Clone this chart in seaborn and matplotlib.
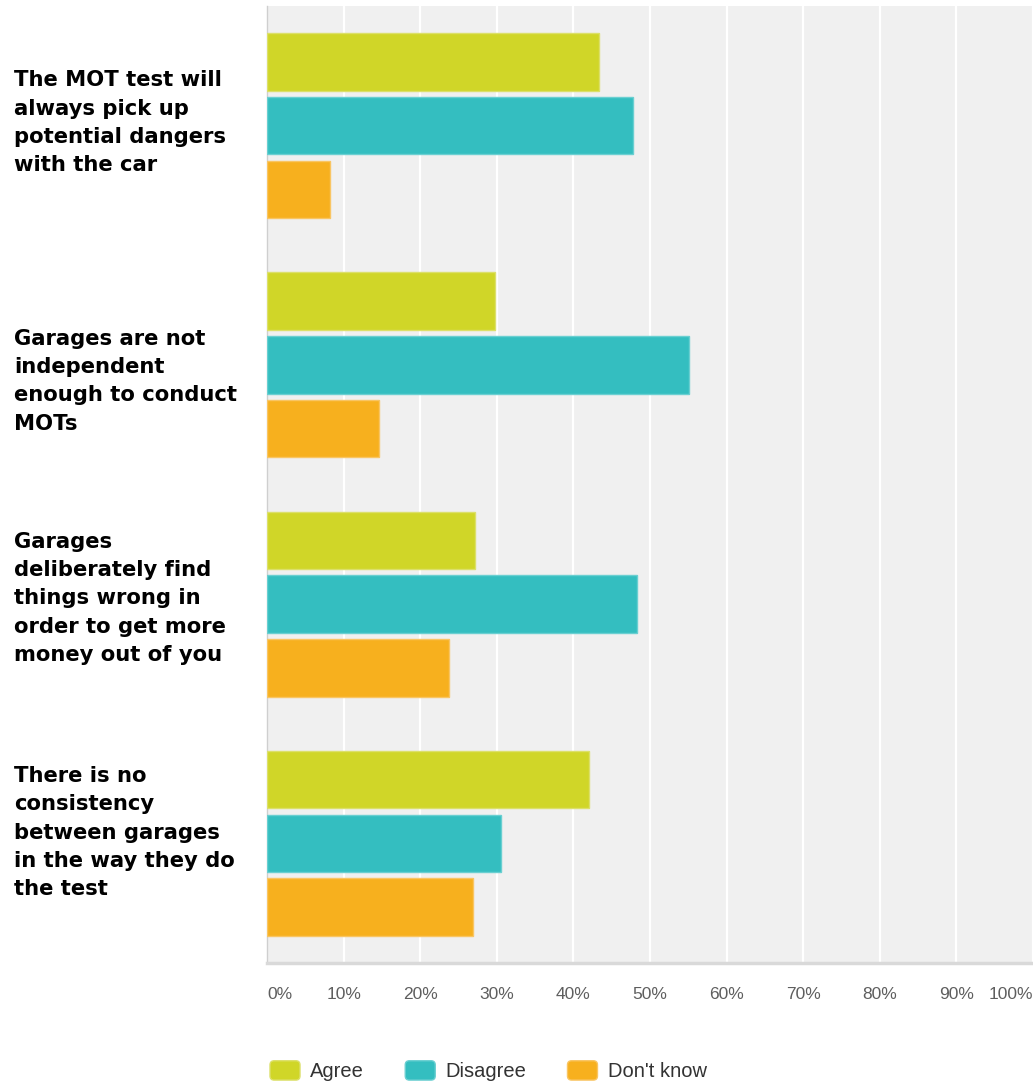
import matplotlib
matplotlib.use("Agg")
import matplotlib.pyplot as plt
import matplotlib.patches as mpatches
import matplotlib.transforms as mtransforms
from matplotlib.legend_handler import HandlerPatch
import pandas as pd
import seaborn as sns

STATEMENTS = ["The MOT test will\nalways pick up\npotential dangers\nwith the car",
              "Garages are not\nindependent\nenough to conduct\nMOTs",
              "Garages\ndeliberately find\nthings wrong in\norder to get more\nmoney out of you",
              "There is no\nconsistency\nbetween garages\nin the way they do\nthe test"]
ANSWERS = ["Agree", "Disagree", "Don't know"]

AGREE = [43.4, 29.7, 27.2, 42.0]
DISAGREE = [47.8, 55.1, 48.3, 30.5]
DONT_KNOW = [8.2, 14.6, 23.8, 26.9]

X_TICKS = [0, 10, 20, 30, 40, 50, 60, 70, 80, 90, 100]
X_LABELS = ["0%", "10%", "20%", "30%", "40%", "50%", "60%", "70%", "80%", "90%", "100%"]

COLORS = {"Agree": "#D0D628", "Disagree": "#34BEC0", "Don't know": "#F7B01E"}
EDGES = {"Agree": "#DCE06A", "Disagree": "#6ACFD1", "Don't know": "#F9C563"}

# the statement texts in the original sit a little off their group centres (pixels, + is down)
LABEL_SHIFT = [-9, 10, -12, -17]

sns.set_theme(style="white", rc={"axes.facecolor": "#F0F0F0"})

rows = []
for i, statement in enumerate(STATEMENTS):
    rows.append([statement, "Agree", AGREE[i]])
    rows.append([statement, "Disagree", DISAGREE[i]])
    rows.append([statement, "Don't know", DONT_KNOW[i]])
df = pd.DataFrame(rows, columns=["statement", "answer", "percent"])

W, H = 1033, 1082
fig = plt.figure(figsize=(W / 100, H / 100), dpi=100)
ax = fig.add_axes([267 / W, 1 - 963 / H, (W - 267) / W, (963 - 6) / H])

sns.barplot(data=df, x="percent", y="statement", hue="answer", order=STATEMENTS,
            hue_order=ANSWERS, palette=COLORS, saturation=1, orient="h",
            width=0.8, gap=0.1, legend=False, ax=ax, zorder=3)

# light outline round each bar, like the original
for container, answer in zip(ax.containers, ANSWERS):
    for bar in container:
        bar.set_edgecolor(EDGES[answer])
        bar.set_linewidth(1)

ax.set_xlim(0, 100)
ax.set_ylim(3.5, -0.5)
ax.set_xticks(X_TICKS)
ax.set_xticklabels(X_LABELS, fontfamily="Liberation Sans", fontsize=12.5, color="#5E5E5E")
for lbl, tick in zip(ax.get_xticklabels(), X_TICKS):
    if tick == 0:
        lbl.set_ha("left")
    elif tick == 100:
        lbl.set_ha("right")
ax.xaxis.grid(True, color="white", linewidth=1.6, zorder=0)
ax.set_axisbelow(True)
ax.tick_params(axis="x", length=0, pad=17)
ax.tick_params(axis="y", length=0, pad=182)
for lbl, shift in zip(ax.get_yticklabels(), LABEL_SHIFT):
    lbl.set_ha("left")
    lbl.set_fontfamily("DejaVu Sans")
    lbl.set_fontweight("bold")
    lbl.set_fontsize(15.2)
    lbl.set_linespacing(1.52)
    lbl.set_color("black")
    offset = mtransforms.ScaledTranslation(0, -shift / 100, fig.dpi_scale_trans)
    lbl.set_transform(lbl.get_transform() + offset)
ax.set_xlabel("")
ax.set_ylabel("")

for side in ["top", "right"]:
    ax.spines[side].set_visible(False)
ax.spines["left"].set_color("#CFCFCF")
ax.spines["left"].set_linewidth(1)
ax.spines["bottom"].set_color("#D9D9D9")
ax.spines["bottom"].set_linewidth(2.5)


def rounded_box(legend, orig_handle, xdescent, ydescent, width, height, fontsize):
    return mpatches.FancyBboxPatch((-xdescent, -ydescent), width, height,
                                   boxstyle="round,pad=0,rounding_size=3")


handles = [mpatches.Patch(facecolor=COLORS[a], edgecolor=EDGES[a], label=a) for a in ANSWERS]
leg = fig.legend(handles=handles, loc="center left", bbox_to_anchor=(270 / W, 1 - 1071 / H),
                 ncol=3, frameon=False, handlelength=1.49, handleheight=1.1,
                 handletextpad=0.5, columnspacing=2.05, borderpad=0, borderaxespad=0,
                 handler_map={mpatches.Patch: HandlerPatch(patch_func=rounded_box)},
                 prop={"family": "Liberation Sans", "size": 14.5})
for t in leg.get_texts():
    t.set_color("#333333")

fig.savefig("out.png", dpi=100)
